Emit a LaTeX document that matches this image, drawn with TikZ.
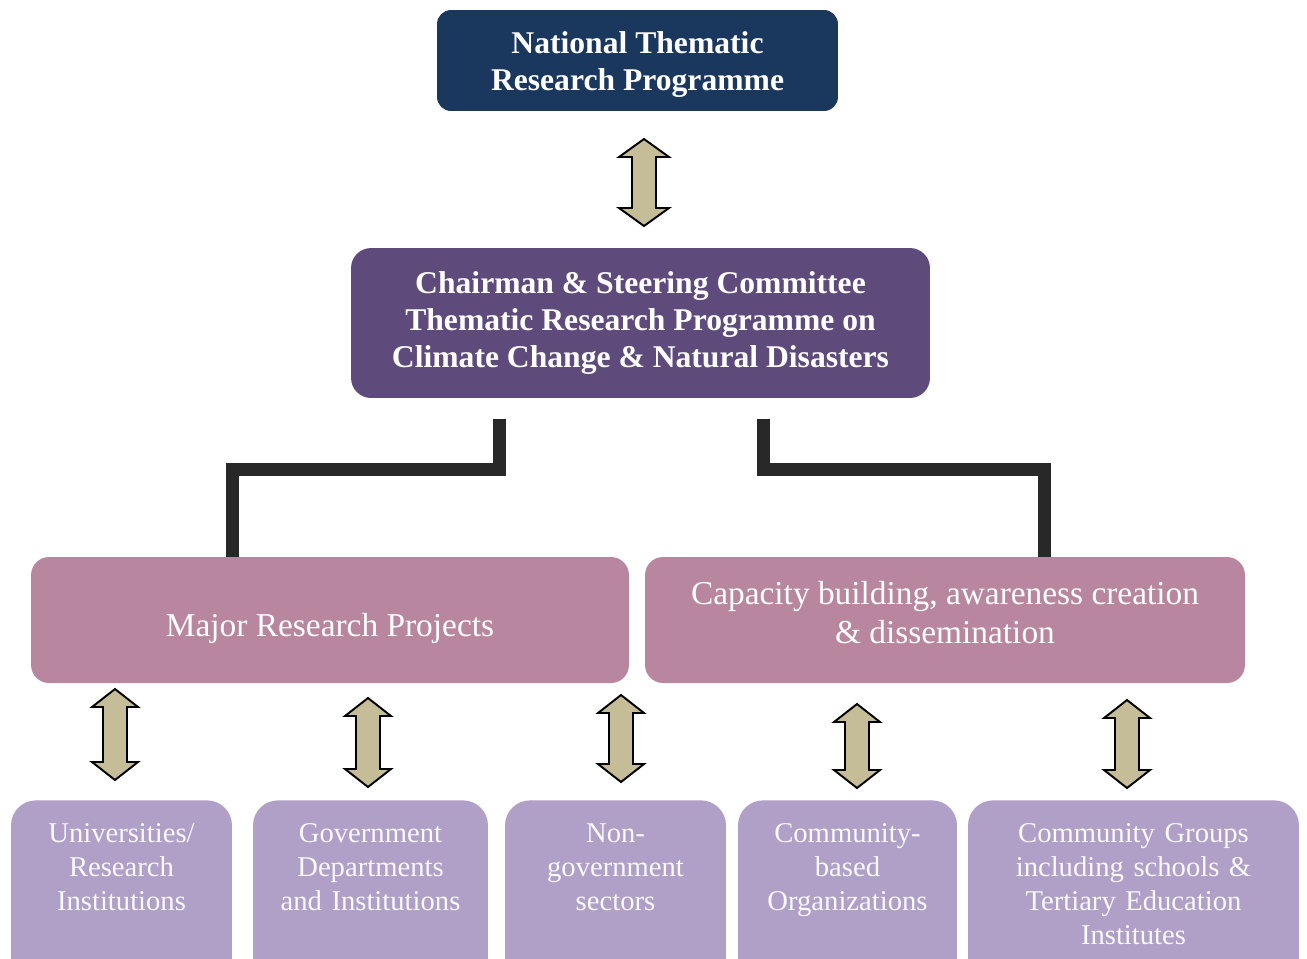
\documentclass[tikz,border=0pt]{standalone}
\usepackage{fontspec}
\setmainfont{Liberation Serif}
\usepackage{xcolor}
\usetikzlibrary{positioning}
\definecolor{navy}{HTML}{1A375E}
\definecolor{chairpurple}{HTML}{5F4A7C}
\definecolor{midmauve}{HTML}{B8869E}
\definecolor{lowlilac}{HTML}{B09FC7}
\definecolor{arrowtan}{HTML}{C4BD97}
\definecolor{linkgray}{HTML}{282828}
\tikzset{
	topbox/.style={fill=navy, rounded corners=0.28cm},
	toptext/.style={text=white, align=center, font=\fontsize{18}{21.5}\selectfont\bfseries},
	chairbox/.style={fill=chairpurple, rounded corners=0.4cm, text=white, align=center, font=\fontsize{18}{21.3}\selectfont\bfseries},
	midbox/.style={fill=midmauve, rounded corners=0.36cm, minimum height=2.52cm},
	midtext/.style={text=white, align=center, font=\fontsize{19}{22.5}\selectfont},
	lowbox/.style={fill=lowlilac, rounded corners=0.5cm, text=white!94!lowlilac, align=center, anchor=north, inner xsep=0pt, inner ysep=0.46cm, text depth=3.4cm, font=\fontsize{16.3}{19.4}\selectfont},
	link/.style={draw=linkgray, line width=0.26cm},
	updown/.style={draw=black, fill=arrowtan, line width=1.1pt, line join=miter},
}
% two-way block arrow: [head half width]{x}{top}{bottom}
\newcommand{\twowayarrow}[4][23]{%
	\draw[updown] (#2,#3) -- (#2+#1,#3+18) -- (#2+12,#3+18) -- (#2+12,#4-18) -- (#2+#1,#4-18) -- (#2,#4)
		-- (#2-#1,#4-18) -- (#2-12,#4-18) -- (#2-12,#3+18) -- (#2-#1,#3+18) -- cycle;}

\begin{document}
\begin{tikzpicture}[x=0.02cm, y=-0.02cm]
		\clip (0,0) rectangle (1307,958);
		\fill[white] (0,0) rectangle (1307,958);

		\node[topbox, minimum width=8.02cm, minimum height=2.02cm] (ntrp) at (637.5,60.5) {};
		\node[toptext, yshift=-0.08cm] (ntrptext) at (ntrp) {National Thematic\\Research Programme};
		\node[chairbox, minimum width=11.58cm, minimum height=3cm] (chair) at (640.5,323) {Chairman \& Steering Committee\\Thematic Research Programme on\\Climate Change \& Natural Disasters};

		\coordinate (lt) at (499,419);
		\coordinate (rt) at (763,419);
		\draw[link] (lt) -- ++(0,50) -| (232,560);
		\draw[link] (rt) -- ++(0,50) -| (1044,560);

		\node[midbox, minimum width=11.96cm] (research) at (330,620) {};
		\node[midtext, yshift=-0.16cm] (researchtext) at (research) {Major Research Projects};
		\node[midbox, minimum width=12cm] (capacity) at (945,620) {};
		\node[midtext, yshift=0.15cm] (capacitytext) at (capacity) {Capacity building, awareness creation\\\& dissemination};

		\node[lowbox, text width=4.42cm] (univ) at (121.5,800) {Universities/\\Research\\Institutions};
		\node[lowbox, text width=4.7cm] (govt) at (370.5,800) {Government\\Departments\\and Institutions};
		\node[lowbox, text width=4.42cm] (ngo) at (615.5,800) {Non-\\government\\sectors};
		\node[lowbox, text width=4.38cm] (cbo) at (847.5,800) {Community-\\based\\Organizations};
		\node[lowbox, text width=6.62cm] (cgroup) at (1133.5,800) {Community Groups\\including schools \&\\Tertiary Education\\Institutes};

		\twowayarrow[25]{644}{139}{226}
		\twowayarrow{115}{689}{780}
		\twowayarrow{368}{698}{787}
		\twowayarrow{621}{695}{782}
		\twowayarrow{857}{704}{788}
		\twowayarrow{1127}{700}{788}
	\end{tikzpicture}
\end{document}
